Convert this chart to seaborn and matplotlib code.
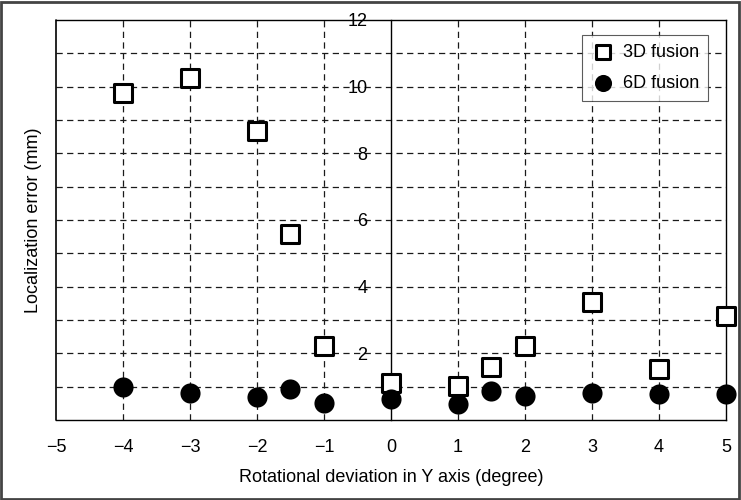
import matplotlib
matplotlib.use("Agg")
import matplotlib.pyplot as plt
import seaborn as sns
import pandas as pd
from matplotlib.patches import Rectangle

x_deg = [-4, -3, -2, -1.5, -1, 0, 1, 1.5, 2, 3, 4, 5]
err_3d = [9.8, 10.26, 8.67, 5.58, 2.22, 1.12, 1.03, 1.58, 2.23, 3.55, 1.53, 3.12]
err_6d = [0.98, 0.82, 0.70, 0.94, 0.52, 0.64, 0.47, 0.87, 0.73, 0.82, 0.78, 0.78]
x_ticks = [-5, -4, -3, -2, -1, 0, 1, 2, 3, 4, 5]
y_ticks = [2, 4, 6, 8, 10, 12]

sns.set_theme(style="white")
plt.rcParams['font.family'] = ['Liberation Sans', 'DejaVu Sans']
plt.rcParams.update({"text.color": "black", "axes.labelcolor": "black",
                     "xtick.color": "black", "ytick.color": "black"})

FS = 13

df3 = pd.DataFrame({"x": x_deg, "y": err_3d})
df6 = pd.DataFrame({"x": x_deg, "y": err_6d})

fig = plt.figure(figsize=(7.41, 5.0), dpi=100)
ax = fig.add_axes([0.0756, 0.16, 0.904, 0.80])

grid_kw = dict(color="#1a1a1a", linestyle=(0, (5, 3.5)), linewidth=0.9, zorder=0)
for gx in range(-4, 5):
    if gx != 0:
        ax.axvline(gx, **grid_kw)
for gy in range(1, 12):
    ax.axhline(gy, **grid_kw)

sns.scatterplot(data=df3, x="x", y="y", marker="s", s=150, facecolor="white",
                edgecolor="black", linewidth=2.2, ax=ax, label="3D fusion", zorder=3,
                clip_on=False)
sns.scatterplot(data=df6, x="x", y="y", marker="o", s=210, color="black",
                edgecolor="black", linewidth=0, ax=ax, label="6D fusion", zorder=3,
                clip_on=False)

ax.set_xlim(-5, 5)
ax.set_ylim(0, 12)
ax.set_xticks(x_ticks)
ax.set_xticklabels(["\u2212" + str(-t) if t < 0 else str(t) for t in x_ticks])
ax.set_yticks(y_ticks)
ax.set_yticklabels([str(t) for t in y_ticks])

for side in ["top", "right", "bottom", "left"]:
    ax.spines[side].set_visible(True)
    ax.spines[side].set_color("black")
    ax.spines[side].set_linewidth(1.0)
ax.spines["left"].set_position(("data", 0))
ax.axvline(-5, color="black", linewidth=1.2, clip_on=False, zorder=5)

ax.tick_params(axis="both", which="major", direction="inout", length=8, width=1,
               colors="black", labelsize=FS)
ax.tick_params(axis="x", pad=10)
ax.tick_params(axis="y", pad=13)

ax.set_xlabel("Rotational deviation in Y axis (degree)", fontsize=FS, labelpad=9)
ax.set_ylabel("")
fig.text(0.045, 0.56, "Localization error (mm)", rotation=90, fontsize=FS,
         ha="center", va="center")

leg = ax.legend(loc="upper right", bbox_to_anchor=(0.973, 0.962), borderaxespad=0,
                fontsize=FS, frameon=True, fancybox=False, edgecolor="#333333",
                handletextpad=0.45, borderpad=0.5, labelspacing=0.75, handlelength=1.3,
                markerscale=0.85)
leg.get_frame().set_linewidth(0.8)

fig.patches.append(Rectangle((0.002, 0.003), 0.995, 0.993, transform=fig.transFigure,
                             fill=False, edgecolor="#444444", linewidth=2))

fig.savefig("out.png", dpi=100)
